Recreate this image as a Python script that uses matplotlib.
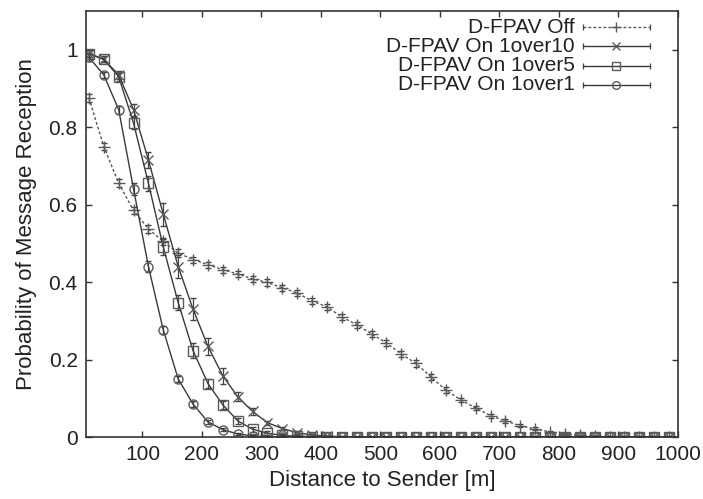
import numpy as np
import matplotlib.pyplot as plt

plt.rcParams['font.family'] = ['Liberation Sans', 'DejaVu Sans']

# distance bins [m]
dist = np.arange(10, 1000, 25)

# D-FPAV Off
p_off = [0.875, 0.75, 0.655, 0.585, 0.537, 0.505, 0.475, 0.458, 0.445, 0.432,
         0.421, 0.408, 0.399, 0.385, 0.372, 0.351, 0.336, 0.31, 0.29, 0.266,
         0.243, 0.214, 0.19, 0.155, 0.121, 0.096, 0.075, 0.055, 0.042, 0.029,
         0.021, 0.013, 0.008, 0.004, 0.002, 0.001, 0.0, 0.0, 0.0, 0.0]
e_off = [0.01, 0.01, 0.01, 0.01, 0.01, 0.01, 0.01, 0.008, 0.008, 0.008,
         0.008, 0.008, 0.008, 0.008, 0.008, 0.008, 0.008, 0.008, 0.008, 0.008,
         0.008, 0.008, 0.008, 0.008, 0.008, 0.006, 0.006, 0.005, 0.005, 0.004,
         0.004, 0.003, 0.003, 0.002, 0.002, 0.001, 0.001, 0.0, 0.0, 0.0]

# D-FPAV On 1over10
p_10 = [0.99, 0.975, 0.935, 0.845, 0.715, 0.575, 0.44, 0.33, 0.234, 0.158,
        0.104, 0.066, 0.037, 0.022, 0.011, 0.005, 0.002, 0.001] + [0.0] * 22
e_10 = [0.01, 0.008, 0.01, 0.015, 0.02, 0.03, 0.03, 0.028, 0.022, 0.02,
        0.012, 0.008, 0.005, 0.004, 0.004, 0.003, 0.002, 0.002] + [0.001] * 22

# D-FPAV On 1over5
p_5 = [0.99, 0.975, 0.93, 0.81, 0.655, 0.49, 0.347, 0.223, 0.138, 0.083,
       0.042, 0.02, 0.01, 0.004, 0.002, 0.001] + [0.0] * 24
e_5 = [0.01, 0.008, 0.01, 0.015, 0.02, 0.02, 0.02, 0.02, 0.012, 0.01,
       0.008, 0.006, 0.005, 0.004, 0.003, 0.002] + [0.001] * 24

# D-FPAV On 1over1
p_1 = [0.98, 0.935, 0.845, 0.64, 0.44, 0.276, 0.15, 0.085, 0.039, 0.019,
       0.008, 0.003, 0.001] + [0.0] * 27
e_1 = [0.01, 0.008, 0.01, 0.015, 0.015, 0.01, 0.008, 0.008, 0.006, 0.004,
       0.003, 0.002, 0.002] + [0.001] * 27

labels = ['D-FPAV Off', 'D-FPAV On 1over10', 'D-FPAV On 1over5', 'D-FPAV On 1over1']

line_col = '#3a3a3a'
mark_col = '#5a5a5a'
styles = [
    dict(p=p_off, e=e_off, marker='+', ls=(0, (2, 1.6)), lc='#555555', ms=8),
    dict(p=p_10, e=e_10, marker='x', ls='-', lc=line_col, ms=6.5),
    dict(p=p_5, e=e_5, marker='s', ls='-', lc=line_col, ms=6.5),
    dict(p=p_1, e=e_1, marker='o', ls='-', lc=line_col, ms=6.5),
]

fig = plt.figure(figsize=(7.03, 4.99), dpi=100)
ax = fig.add_axes([0.1223, 0.1242, 0.8421, 0.8538])

for s in styles:
    ax.errorbar(dist, s['p'], yerr=s['e'], color=s['lc'], ls=s['ls'], lw=1.0,
                marker=s['marker'], ms=s['ms'], mfc='none', mec=mark_col, mew=1.0,
                ecolor='#444444', elinewidth=0.9, capsize=2.5, capthick=0.9)

# legend drawn by hand: text on the left, sample with end caps on the right
rows = [0.962, 0.917, 0.872, 0.827]
for s, lab, y in zip(styles, labels, rows):
    ax.text(0.826, y, lab, transform=ax.transAxes, ha='right', va='center',
            fontsize=15, color='#222222')
    ax.plot([0.8395, 0.9527], [y, y], transform=ax.transAxes, color=s['lc'],
            ls=s['ls'], lw=1.0)
    ax.plot([0.8395, 0.9527], [y, y], transform=ax.transAxes, ls='none',
            marker='|', ms=5, mew=0.9, color='#444444')
    ax.plot([0.896], [y], transform=ax.transAxes, ls='none', marker=s['marker'],
            ms=s['ms'] - 1, mfc='none', mec=mark_col, mew=1.0)

ax.set_xlim(5, 1000)
ax.set_ylim(0, 1.1)
ax.set_xticks(range(100, 1001, 100))
ax.set_yticks([0, 0.2, 0.4, 0.6, 0.8, 1])
ax.set_yticklabels(['0', '0.2', '0.4', '0.6', '0.8', '1'])
ax.tick_params(direction='in', length=4.5, width=1.0, color='#333333',
               top=True, right=True, labelsize=15, labelcolor='#222222', pad=6)
for sp in ax.spines.values():
    sp.set_color('#333333')
    sp.set_linewidth(1.2)

ax.set_xlabel('Distance to Sender [m]', fontsize=16, color='#222222', labelpad=4)
ax.set_ylabel('Probability of Message Reception', fontsize=16, color='#222222',
              labelpad=8)

fig.savefig('out.png', dpi=100)
